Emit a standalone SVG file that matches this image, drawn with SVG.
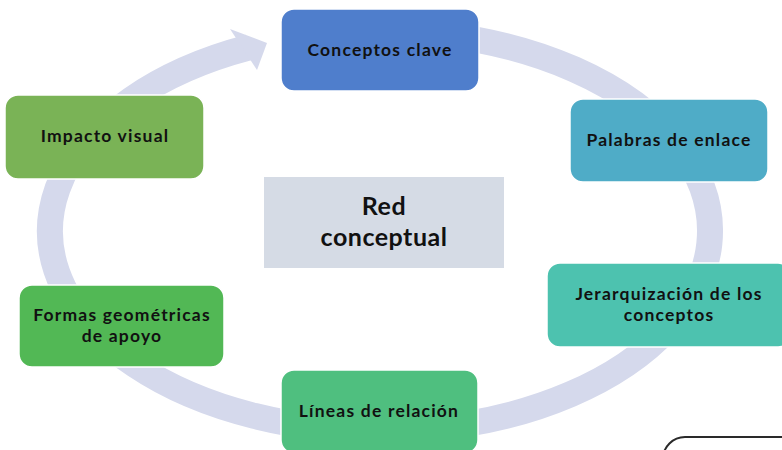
<svg xmlns="http://www.w3.org/2000/svg" width="782" height="450" viewBox="0 0 782 450">
<style>
.box{stroke:#ffffff;stroke-width:1.5}
.t{font-family:"Lato","Open Sans",sans-serif;font-weight:700;font-size:17.5px;letter-spacing:1.2px;fill:#111111;text-anchor:middle}
.big{font-size:25px;letter-spacing:0.5px}
.ring{fill:none;stroke:#D5D9EC;stroke-width:26}
</style>
<rect width="782" height="450" fill="#ffffff"/>
<g id="connectors">
<path class="ring" d="M 440 34.3 A 330 200 0 1 1 249 47.4"/>
<polygon points="230,29 267,43 257,70" fill="#D5D9EC"/>
</g>
<g id="center">
<rect x="264" y="177" width="240" height="91" fill="#D5DBE5"/>
<text class="t big" x="384" y="215">Red</text>
<text class="t big" x="384" y="246">conceptual</text>
</g>
<g id="n1">
<rect class="box" x="281" y="9" width="198" height="82" rx="13" fill="#4F7ECC"/>
<text class="t" x="380" y="56">Conceptos clave</text>
</g>
<g id="n2">
<rect class="box" x="570" y="99" width="198" height="83" rx="13" fill="#4FACC7"/>
<text class="t" x="669" y="146">Palabras de enlace</text>
</g>
<g id="n3">
<rect class="box" x="547" y="263" width="244" height="84" rx="13" fill="#4DC2AF"/>
<text class="t" x="669" y="299.5">Jerarquización de los</text>
<text class="t" x="669" y="320.5">conceptos</text>
</g>
<g id="n4">
<rect class="box" x="281" y="370" width="197" height="83" rx="13" fill="#4FBF7F"/>
<text class="t" x="379" y="417">Líneas de relación</text>
</g>
<g id="n5">
<rect class="box" x="19" y="285" width="205" height="82" rx="13" fill="#52B855"/>
<text class="t" x="122" y="321">Formas geométricas</text>
<text class="t" x="122" y="342">de apoyo</text>
</g>
<g id="n6">
<rect class="box" x="5" y="95" width="199" height="84" rx="13" fill="#7AB356"/>
<text class="t" x="105" y="142">Impacto visual</text>
</g>
<g id="frame">
<rect x="663" y="437" width="200" height="100" rx="22" fill="none" stroke="#2a2a2a" stroke-width="2"/>
</g>
</svg>
